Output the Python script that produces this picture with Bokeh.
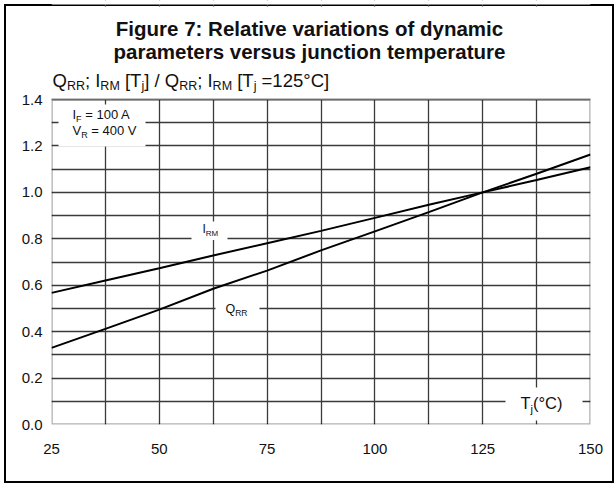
from bokeh.plotting import figure
from bokeh.models import FixedTicker, Label, BoxAnnotation, Range1d, ColumnDataSource
from bokeh.embed import file_html
from bokeh.resources import INLINE

# ---------------- data ----------------
temp_c = [25, 37.5, 50, 62.5, 75, 87.5, 100, 112.5, 125, 137.5, 150]
irm_rel = [0.567, 0.620, 0.673, 0.728, 0.781, 0.834, 0.890, 0.947, 1.000, 1.053, 1.108]
qrr_rel = [0.330, 0.412, 0.495, 0.585, 0.663, 0.750, 0.832, 0.915, 1.000, 1.080, 1.163]
x_ticks = [25, 50, 75, 100, 125, 150]
y_ticks = [0.0, 0.2, 0.4, 0.6, 0.8, 1.0, 1.2, 1.4]
x_grid = [25, 37.5, 50, 62.5, 75, 87.5, 100, 112.5, 125, 137.5, 150]
y_grid = [0.0, 0.1, 0.2, 0.3, 0.4, 0.5, 0.6, 0.7, 0.8, 0.9, 1.0, 1.1, 1.2, 1.3, 1.4]
title_lines = ["Figure 7: Relative variations of dynamic",
               "parameters versus junction temperature"]

FONT = "Liberation Sans"
TXT = "#111111"
BASE_FIX = 0.43   # label baseline correction (fraction of font size)

# layout (page pixels of the plot box in the reference)
PW, PH = 615, 484
FL, FR, FT, FB = 51, 590, 99, 424
X0, X1, Y0, Y1 = 25, 150, 0.0, 1.4

def px2x(px):
    return X0 + (px - FL) / (FR - FL) * (X1 - X0)

def py2y(py):
    return Y0 + (FB - py) / (FB - FT) * (Y1 - Y0)

Y_TOP = py2y(0)   # frame extends to the top of the canvas so the titles can live in it

p = figure(frame_width=FR - FL, frame_height=FB,
           min_border_left=FL, min_border_right=PW - FR, min_border_top=0,
           min_border_bottom=PH - FB,
           x_range=Range1d(X0, X1), y_range=Range1d(Y0, Y_TOP),
           output_backend="svg", toolbar_location=None, tools="")
p.background_fill_color = None
p.border_fill_color = None
p.outline_line_color = None
# outer page frame drawn by CSS behind the transparent canvas
p.styles = {"background-color": "white",
            "box-shadow": "inset 1.5px 1.5px 0 2.5px white, inset 1.5px 1.5px 0 4.5px black"}

for ax in (p.xaxis, p.yaxis):
    ax.axis_line_color = None
    ax.major_tick_line_color = None
    ax.minor_tick_line_color = None
    ax.major_tick_out = 0
    ax.major_tick_in = 0
    ax.major_label_text_font = FONT
    ax.major_label_text_font_size = "15px"
    ax.major_label_text_color = TXT

p.xaxis.ticker = FixedTicker(ticks=x_ticks)
p.yaxis.ticker = FixedTicker(ticks=y_ticks)
p.xaxis.major_label_overrides = {t: str(t) for t in x_ticks}
p.yaxis.major_label_overrides = {t: f"{t:.1f}" for t in y_ticks}
p.xaxis.major_label_standoff = 19
p.yaxis.major_label_standoff = 9

p.xgrid.ticker = FixedTicker(ticks=x_grid)
p.ygrid.ticker = FixedTicker(ticks=y_grid)
for g in (p.xgrid, p.ygrid):
    g.grid_line_color = "#3a3a3a"
    g.grid_line_width = 1.3

src = ColumnDataSource(dict(t=temp_c, irm=irm_rel, qrr=qrr_rel))
p.line("t", "irm", source=src, line_color="black", line_width=2)
p.line("t", "qrr", source=src, line_color="black", line_width=2)

# white areas above the plot box (hide the grid there, leave the page frame band free)
p.add_layout(BoxAnnotation(bottom=Y1, top=py2y(6.1), fill_color="white", fill_alpha=1.0,
                           line_color=None))
p.add_layout(BoxAnnotation(bottom=py2y(3.9), fill_color="white", fill_alpha=1.0,
                           line_color=None))
# the plot box outline
p.add_layout(BoxAnnotation(left=X0, right=X1, bottom=Y0, top=Y1, fill_alpha=0.0,
                           line_color="black", line_width=2.6))

# ---------------- white boxes that break the grid behind labels ----------------
def wbox(l, r, t, b):
    p.add_layout(BoxAnnotation(left=px2x(l), right=px2x(r), top=py2y(t), bottom=py2y(b),
                               fill_color="white", fill_alpha=1.0, line_color=None))

wbox(58, 145, 104, 146)      # I_F / V_R
wbox(191, 227, 221, 239.4)   # I_RM
wbox(215, 259, 300, 318)     # Q_RR
wbox(505, 582, 387, 420)     # T_j

# ---------------- rich text helper (subscripts) ----------------
W = {' ': 278, ';': 278, '[': 278, ']': 278, '/': 278, '=': 584, '°': 400, 'C': 722,
     'Q': 778, 'R': 722, 'M': 833, 'I': 278, 'T': 611, 'j': 222, 'F': 611, 'V': 667,
     'A': 667, '(': 333, ')': 333}

def tw(s, size):
    return sum(W.get(c, 556) for c in s) * size / 1000.0

def rich(px, base_py, runs, align="left", drop=3.0):
    total = sum(tw(t, s) for t, s, sub in runs)
    off = -total / 2 if align == "center" else 0.0
    for t, s, sub in runs:
        lead = len(t) - len(t.lstrip(' '))
        off_run = off + tw(' ' * lead, s)
        txt = t.strip(' ')
        if txt:
            p.add_layout(Label(x=px2x(px), y=py2y(base_py - BASE_FIX * s), x_offset=off_run,
                               y_offset=(-drop if sub else 0), text=txt,
                               text_font=FONT, text_font_size=f"{s}px",
                               text_baseline="alphabetic", text_align="left",
                               text_color=TXT))
        off += tw(t, s)

# title
for line, size, base in zip(title_lines, (20.5, 20.5), (36.5, 60.0)):
    p.add_layout(Label(x=px2x(309), y=py2y(base - BASE_FIX * size), text=line,
                       text_font=FONT, text_font_size=f"{size}px", text_font_style="bold",
                       text_baseline="alphabetic", text_align="center", text_color=TXT))

# y axis title
M, S = 18.5, 12.5
rich(52, 87.5, [("Q", M, False), ("RR", S, True), ("; I", M, False), ("RM", S, True),
                (" [T", M, False), ("j", S, True), ("] / Q", M, False), ("RR", S, True),
                ("; I", M, False), ("RM", S, True), (" [T", M, False), ("j", S, True),
                (" =125°C]", M, False)], drop=3.5)

# conditions box
rich(72, 120, [("I", 13, False), ("F", 9, True), (" = 100 A", 13, False)], drop=2.5)
rich(72, 135.5, [("V", 13, False), ("R", 9, True), (" = 400 V", 13, False)], drop=2.5)

# curve labels
rich(202, 233.5, [("I", 12, False), ("RM", 8, True)], drop=3)
rich(225, 313.5, [("Q", 12.5, False), ("RR", 8.5, True)], drop=3)
rich(520, 410, [("T", 16.5, False), ("j", 11, True), ("(°C)", 16.5, False)], drop=3.5)

open("out.html", "w").write(file_html(p, INLINE))
